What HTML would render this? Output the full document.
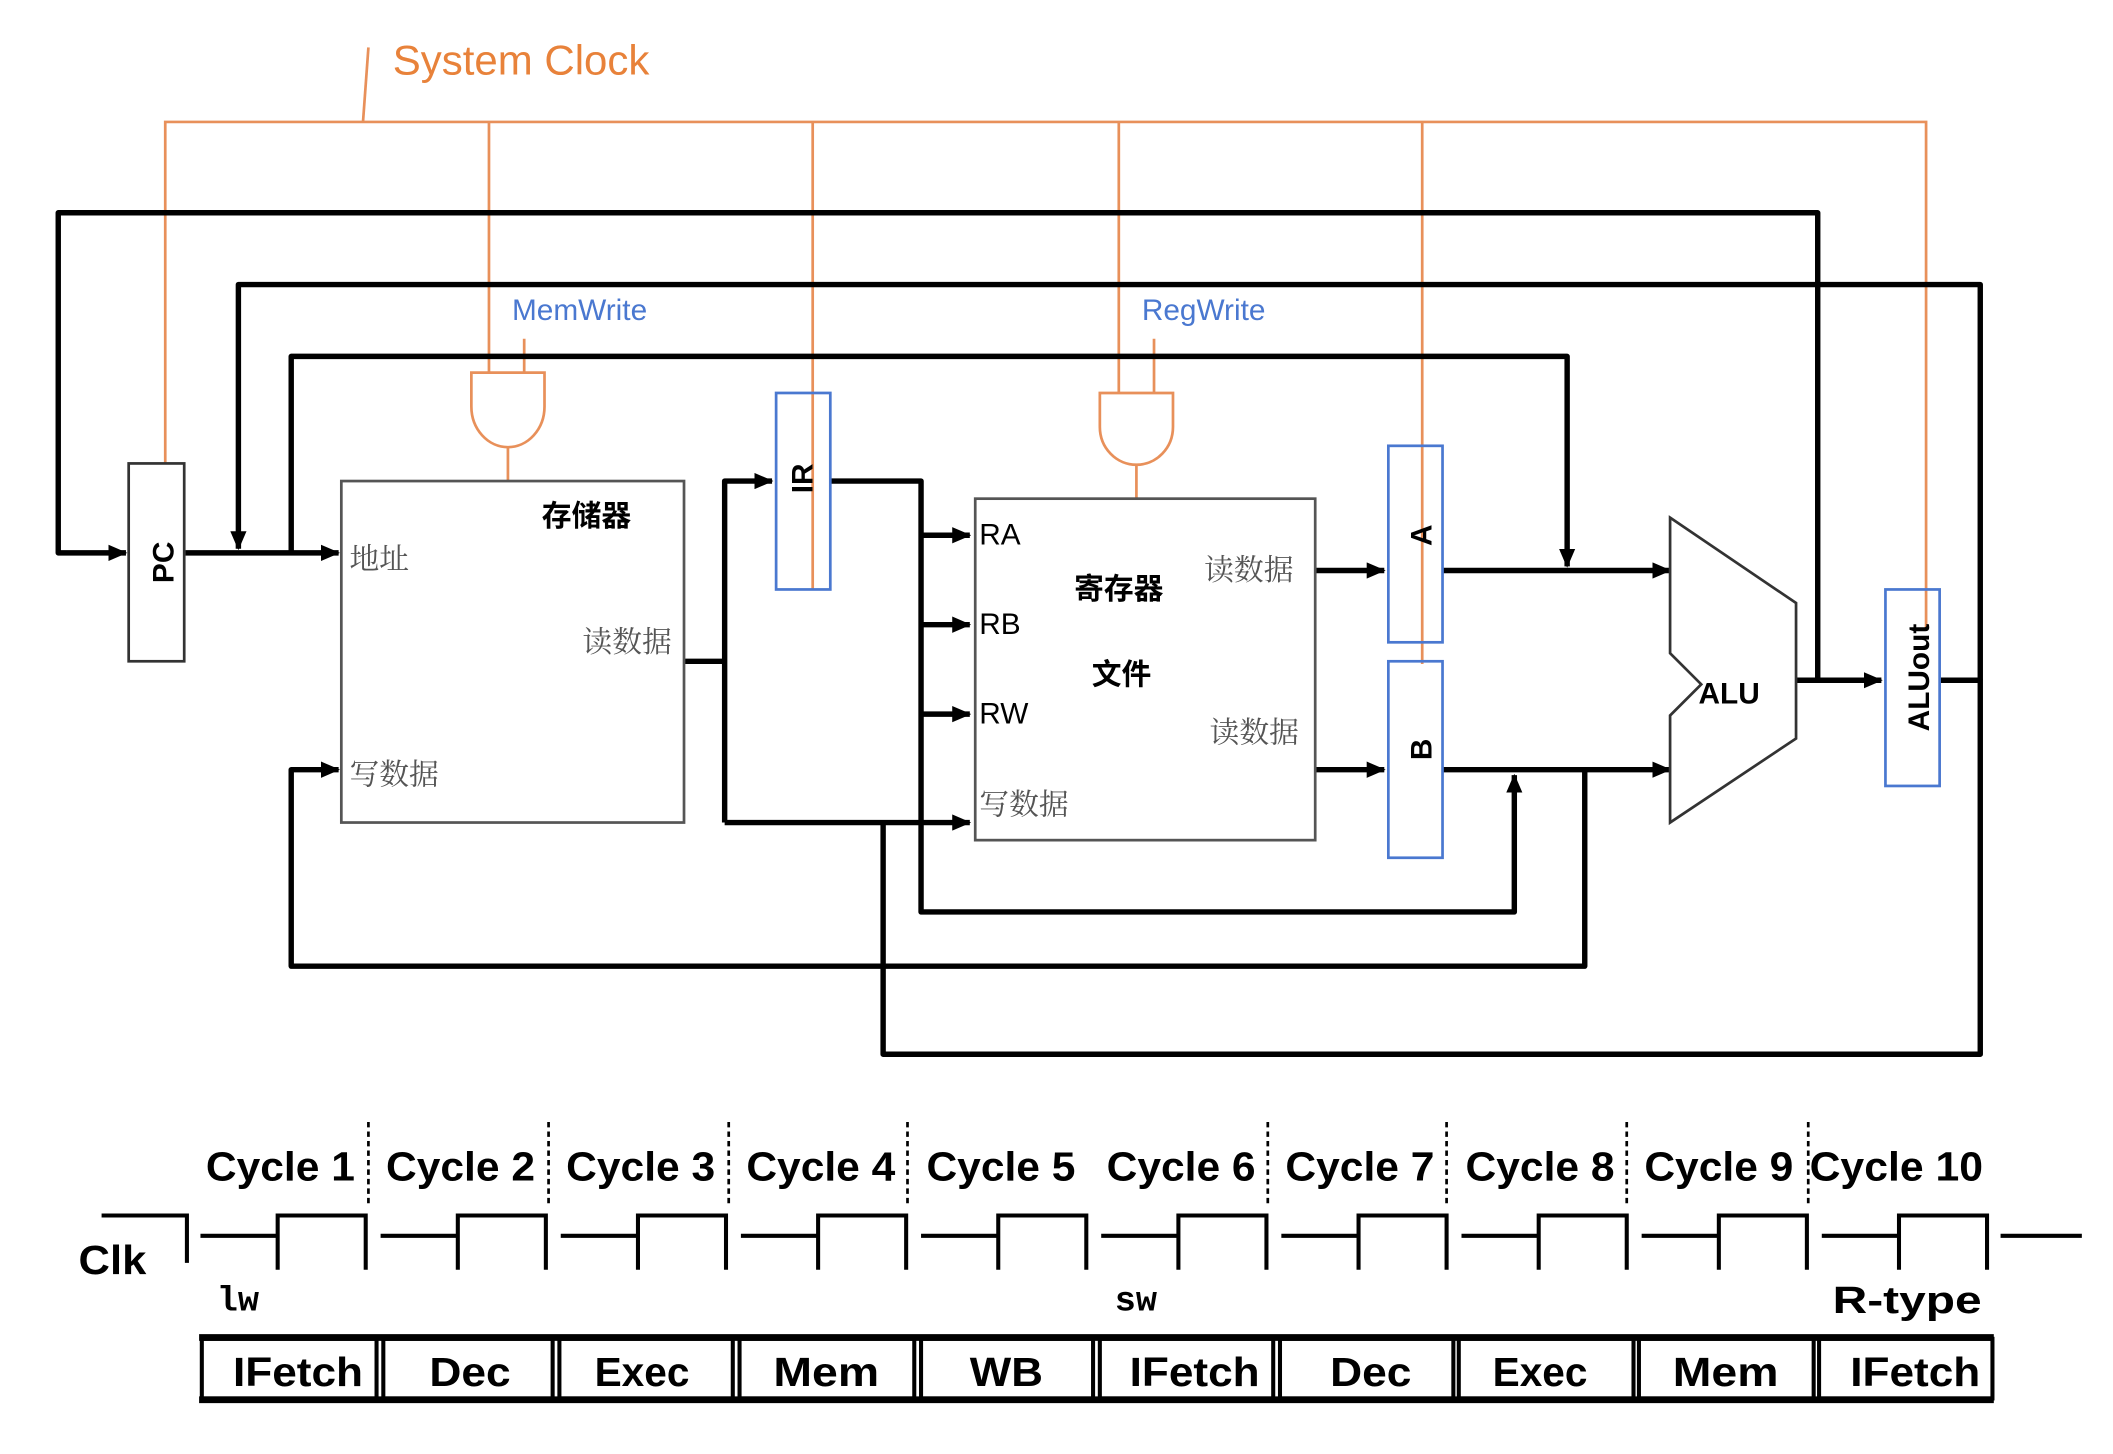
<!DOCTYPE html>
<html><head><meta charset="utf-8"><style>html,body{margin:0;padding:0;background:#fff}svg{display:block}</style></head><body>
<svg width="2113" height="1454" viewBox="0 0 1560 1073" preserveAspectRatio="none" xmlns="http://www.w3.org/2000/svg" font-family="Liberation Sans, Noto Sans CJK SC, sans-serif">
<defs>
<marker id="ar2" markerWidth="14" markerHeight="12" refX="13" refY="6" orient="auto" markerUnits="userSpaceOnUse"><path d="M0,0 L14,6 L0,12 z" fill="#000"/></marker>
</defs>
<rect width="1560" height="1073" fill="#fff"/>
<g stroke="#E8905A" stroke-width="2" fill="none">
<path d="M272,35 L268,90"/>
<path d="M122,342 V90 H1422 V465"/>
<path d="M361,90 V275 M600,90 V435 M826,90 V290 M1050,90 V490"/>
<path d="M387,250 V275 M852,250 V290"/>
<path d="M348,275 H402 V300 A27,30 0 0 1 348,300 Z"/>
<path d="M375,330 V355"/>
<path d="M812,290 H866 V315 A27,28 0 0 1 812,315 Z"/>
<path d="M839,343 V368"/>
</g>
<text x="290" y="55" font-size="31" fill="#E8823A">System Clock</text>
<text x="378" y="236" font-size="22" fill="#4A78D0">MemWrite</text>
<text x="843" y="236" font-size="22" fill="#4A78D0">RegWrite</text>
<g stroke="#000" stroke-width="4" fill="none" stroke-linejoin="round">
<path d="M1342,502 V157 H43 V408 H93" marker-end="url(#ar2)"/>
<path d="M1462,502 V210 H176 V405" marker-end="url(#ar2)"/>
<path d="M215,408 V263 H1157 V418" marker-end="url(#ar2)"/>
<path d="M137,408 H250" marker-end="url(#ar2)"/>
<path d="M505,488 H535 M535,607 V355 H570" marker-end="url(#ar2)"/>
<path d="M535,607 H716" marker-end="url(#ar2)"/>
<path d="M613,355 H680 V673 H1118 V572" marker-end="url(#ar2)"/>
<path d="M680,395 H716" marker-end="url(#ar2)"/>
<path d="M680,461 H716" marker-end="url(#ar2)"/>
<path d="M680,527 H716" marker-end="url(#ar2)"/>
<path d="M971,421 H1022" marker-end="url(#ar2)"/>
<path d="M971,568 H1022" marker-end="url(#ar2)"/>
<path d="M1065,421 H1233" marker-end="url(#ar2)"/>
<path d="M1065,568 H1233" marker-end="url(#ar2)"/>
<path d="M1170,568 V713 H215 V568 H250" marker-end="url(#ar2)"/>
<path d="M652,607 V778 H1462 V502 H1432"/>
<path d="M1326,502 H1389" marker-end="url(#ar2)"/>
</g>
<rect x="252" y="355" width="253" height="252" fill="none" stroke="#555" stroke-width="2"/>
<rect x="720" y="368" width="251" height="252" fill="none" stroke="#555" stroke-width="2"/>
<rect x="95" y="342" width="41" height="146" fill="#fff" stroke="#333" stroke-width="2"/>
<g fill="none" stroke="#4A78D0" stroke-width="2">
<rect x="573" y="290" width="40" height="145"/>
<rect x="1025" y="329" width="40" height="145"/>
<rect x="1025" y="488" width="40" height="145"/>
<rect x="1392" y="435" width="40" height="145"/>
</g>
<path d="M1233,382 L1326,445 L1326,545 L1233,607 L1233,528 L1256,505 L1233,482 Z" fill="#fff" stroke="#333" stroke-width="2"/>
<g font-weight="bold" font-size="22" fill="#000">
<text transform="translate(128,415) rotate(-90)" text-anchor="middle">PC</text>
<text transform="translate(600,353) rotate(-90)" text-anchor="middle">IR</text>
<text transform="translate(1057,395) rotate(-90)" text-anchor="middle">A</text>
<text transform="translate(1057,553) rotate(-90)" text-anchor="middle">B</text>
<text transform="translate(1424,500) rotate(-90)" text-anchor="middle">ALUout</text>
<text x="1254" y="519">ALU</text>
<text x="400" y="388" font-size="22">存储器</text>
<text x="793" y="442" font-size="22">寄存器</text>
<text x="806" y="505" font-size="22">文件</text>
</g>
<g font-size="22" fill="#555" font-family="Liberation Serif, Noto Serif CJK SC, serif">
<text x="258" y="420">地址</text>
<text x="430" y="481">读数据</text>
<text x="258" y="579">写数据</text>
<text x="723" y="601">写数据</text>
<text x="889" y="428">读数据</text>
<text x="893" y="548">读数据</text>
</g>
<g font-size="22" fill="#000">
<text x="723" y="402">RA</text>
<text x="723" y="468">RB</text>
<text x="723" y="534">RW</text>
</g>
<g font-size="30" fill="#000" font-weight="bold">
<text x="152" y="871" textLength="110" lengthAdjust="spacingAndGlyphs">Cycle 1</text>
<text x="285" y="871" textLength="110" lengthAdjust="spacingAndGlyphs">Cycle 2</text>
<text x="418" y="871" textLength="110" lengthAdjust="spacingAndGlyphs">Cycle 3</text>
<text x="551" y="871" textLength="110" lengthAdjust="spacingAndGlyphs">Cycle 4</text>
<text x="684" y="871" textLength="110" lengthAdjust="spacingAndGlyphs">Cycle 5</text>
<text x="817" y="871" textLength="110" lengthAdjust="spacingAndGlyphs">Cycle 6</text>
<text x="949" y="871" textLength="110" lengthAdjust="spacingAndGlyphs">Cycle 7</text>
<text x="1082" y="871" textLength="110" lengthAdjust="spacingAndGlyphs">Cycle 8</text>
<text x="1214" y="871" textLength="110" lengthAdjust="spacingAndGlyphs">Cycle 9</text>
<text x="1336" y="871" textLength="128" lengthAdjust="spacingAndGlyphs">Cycle 10</text>
<text x="58" y="940" textLength="50" lengthAdjust="spacingAndGlyphs">Clk</text>
</g>
<g stroke="#000" stroke-width="2" stroke-dasharray="4,3">
<path d="M272,828 V890 M405,828 V890 M538,828 V890 M670,828 V890 M936,828 V890 M1068,828 V890 M1201,828 V890 M1335,828 V890"/>
</g>
<g stroke="#000" stroke-width="3" fill="none">
<path d="M75,897 H138 V932"/>
<path d="M148,912 H205 M205,937 V897 H270 V937"/>
<path d="M281,912 H338 M338,937 V897 H403 V937"/>
<path d="M414,912 H471 M471,937 V897 H536 V937"/>
<path d="M547,912 H604 M604,937 V897 H669 V937"/>
<path d="M680,912 H737 M737,937 V897 H802 V937"/>
<path d="M813,912 H870 M870,937 V897 H935 V937"/>
<path d="M946,912 H1003 M1003,937 V897 H1068 V937"/>
<path d="M1079,912 H1136 M1136,937 V897 H1201 V937"/>
<path d="M1212,912 H1269 M1269,937 V897 H1334 V937"/>
<path d="M1345,912 H1402 M1402,937 V897 H1467 V937"/>
<path d="M1477,912 H1537"/>
</g>
<g font-family="Liberation Mono, monospace" font-weight="bold" font-size="26" fill="#000">
<text x="160" y="967">lw</text>
<text x="823" y="967">sw</text>
</g>
<text x="1353" y="969" font-size="28" font-weight="bold" textLength="110" lengthAdjust="spacingAndGlyphs">R-type</text>
<g stroke="#000" fill="none">
<path d="M147,987 H1472 M147,1033 H1472" stroke-width="5"/>
<g stroke-width="3">
<rect x="149" y="988" width="129" height="44"/>
<rect x="283" y="988" width="125" height="44"/>
<rect x="413" y="988" width="128" height="44"/>
<rect x="546" y="988" width="129" height="44"/>
<rect x="680" y="988" width="127" height="44"/>
<rect x="812" y="988" width="128" height="44"/>
<rect x="945" y="988" width="128" height="44"/>
<rect x="1077" y="988" width="129" height="44"/>
<rect x="1210" y="988" width="129" height="44"/>
<rect x="1343" y="988" width="128" height="44"/>
</g>
</g>
<g font-size="30" fill="#000" text-anchor="middle" font-weight="bold">
<text x="220" y="1023" textLength="96" lengthAdjust="spacingAndGlyphs">IFetch</text>
<text x="347" y="1023" textLength="60" lengthAdjust="spacingAndGlyphs">Dec</text>
<text x="474" y="1023" textLength="70" lengthAdjust="spacingAndGlyphs">Exec</text>
<text x="610" y="1023" textLength="78" lengthAdjust="spacingAndGlyphs">Mem</text>
<text x="743" y="1023" textLength="54" lengthAdjust="spacingAndGlyphs">WB</text>
<text x="882" y="1023" textLength="96" lengthAdjust="spacingAndGlyphs">IFetch</text>
<text x="1012" y="1023" textLength="60" lengthAdjust="spacingAndGlyphs">Dec</text>
<text x="1137" y="1023" textLength="70" lengthAdjust="spacingAndGlyphs">Exec</text>
<text x="1274" y="1023" textLength="78" lengthAdjust="spacingAndGlyphs">Mem</text>
<text x="1414" y="1023" textLength="96" lengthAdjust="spacingAndGlyphs">IFetch</text>
</g>
</svg>
</body></html>
